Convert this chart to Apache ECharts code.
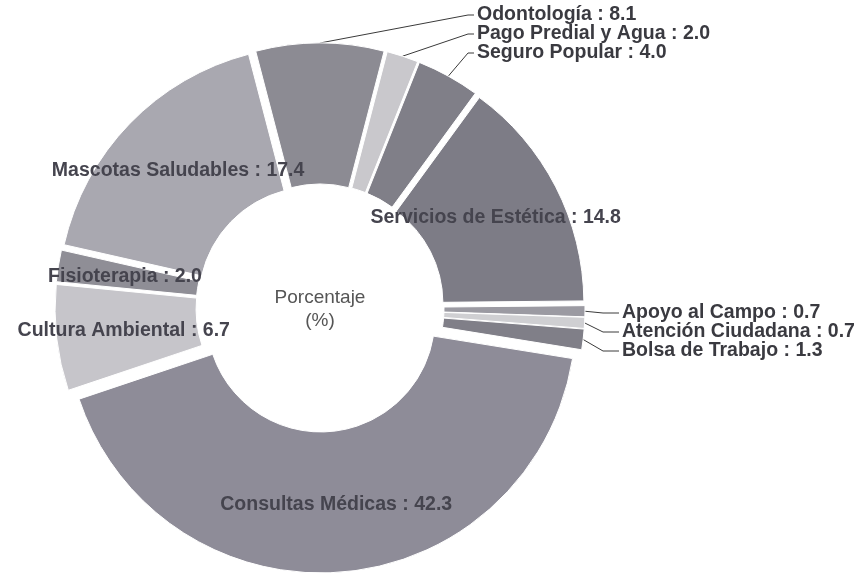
<!DOCTYPE html>
<html>
<head>
<meta charset="utf-8">
<script src="https://cdn.jsdelivr.net/npm/echarts@6/dist/echarts.min.js"></script>
<style>
  html, body { margin: 0; background: #fff; }
  #chart { width: 860px; height: 576px; }
</style>
</head>
<body>
<div id="chart"></div>
<script>
  const categories = [
    'Odontología', 'Pago Predial y Agua', 'Seguro Popular', 'Servicios de Estética',
    'Apoyo al Campo', 'Atención Ciudadana', 'Bolsa de Trabajo', 'Consultas Médicas',
    'Cultura Ambiental', 'Fisioterapia', 'Mascotas Saludables'
  ]
  const values = [8.1, 2.0, 4.0, 14.8, 0.7, 0.7, 1.3, 42.3, 6.7, 2.0, 17.4]
  const sliceColors = [
    '#8c8b93', '#c9c8cc', '#807f88', '#7d7c86', '#9b9aa2', '#cfcfd2',
    '#807f88', '#8e8c98', '#c6c5ca', '#8f8e96', '#a9a8b0'
  ]
  // labels that sit outside, stacked in two columns
  const topLabels = ['Odontología', 'Pago Predial y Agua', 'Seguro Popular']
  const rightLabels = ['Apoyo al Campo', 'Atención Ciudadana', 'Bolsa de Trabajo']

  const CENTER = [320, 308]
  const R0 = 114
  const R = 255
  const EXPLODE = 10
  const FONT = '"Liberation Sans", Arial, sans-serif'

  const chart = echarts.init(document.getElementById('chart'))

  const isOutside = (name) => topLabels.includes(name) || rightLabels.includes(name)
  const fmt = (p) => `${p.name} : ${p.value.toFixed(1)}`

  // exploded donut with the inside labels
  const sliceData = categories.map((name, i) => ({
    name,
    value: values[i],
    selected: true,
    itemStyle: { color: sliceColors[i] },
    label: { show: !isOutside(name) }
  }))

  // transparent copy sized to the exploded edge, carries the outside labels + leader lines
  const guideData = categories.map((name, i) => ({
    name,
    value: values[i],
    label: { show: isOutside(name) },
    labelLine: { show: isOutside(name) }
  }))

  const option = {
    animation: false,
    graphic: [
      {
        type: 'text',
        x: CENTER[0],
        y: CENTER[1] + 1,
        style: {
          text: 'Porcentaje\n(%)',
          font: `19px ${FONT}`,
          fill: '#555',
          align: 'center',
          verticalAlign: 'middle',
          lineHeight: 23
        }
      }
    ],
    series: [
      {
        type: 'pie',
        center: CENTER,
        radius: [R0, R],
        startAngle: 104.6,
        clockwise: true,
        selectedMode: 'multiple',
        selectedOffset: EXPLODE,
        avoidLabelOverlap: false,
        itemStyle: { borderColor: '#fff', borderWidth: 1 },
        label: {
          position: 'inside',
          color: '#45444e',
          fontFamily: FONT,
          fontSize: 19.5,
          fontWeight: 'bold',
          formatter: fmt
        },
        labelLine: { show: false },
        emphasis: { disabled: true },
        data: sliceData
      },
      {
        type: 'pie',
        silent: true,
        center: CENTER,
        radius: [R0 + EXPLODE, R + EXPLODE],
        startAngle: 104.6,
        clockwise: true,
        avoidLabelOverlap: false,
        itemStyle: { color: 'rgba(0,0,0,0)' },
        label: {
          position: 'outside',
          color: '#3a3a40',
          fontFamily: FONT,
          fontSize: 19.5,
          fontWeight: 'bold',
          overflow: 'none',
          formatter: fmt
        },
        labelLine: {
          length: 10,
          length2: 8,
          lineStyle: { color: '#3a3a3a', width: 1 }
        },
        emphasis: { disabled: true },
        labelLayout: (params) => {
          const name = categories[params.dataIndex]
          const start = params.labelLinePoints && params.labelLinePoints[0]
          let k = topLabels.indexOf(name)
          let x, y, bend
          if (k >= 0) {
            x = 477; y = 15 + k * 19; bend = 9
          } else {
            k = rightLabels.indexOf(name)
            if (k < 0) return {}
            x = 622; y = 313 + k * 19; bend = 19
          }
          const out = { x, y, align: 'left', verticalAlign: 'middle' }
          if (start) out.labelLinePoints = [start, [x - bend, y], [x - 3, y]]
          return out
        },
        data: guideData
      }
    ]
  }

  chart.setOption(option)
  window.addEventListener('resize', () => chart.resize())
</script>
</body>
</html>
